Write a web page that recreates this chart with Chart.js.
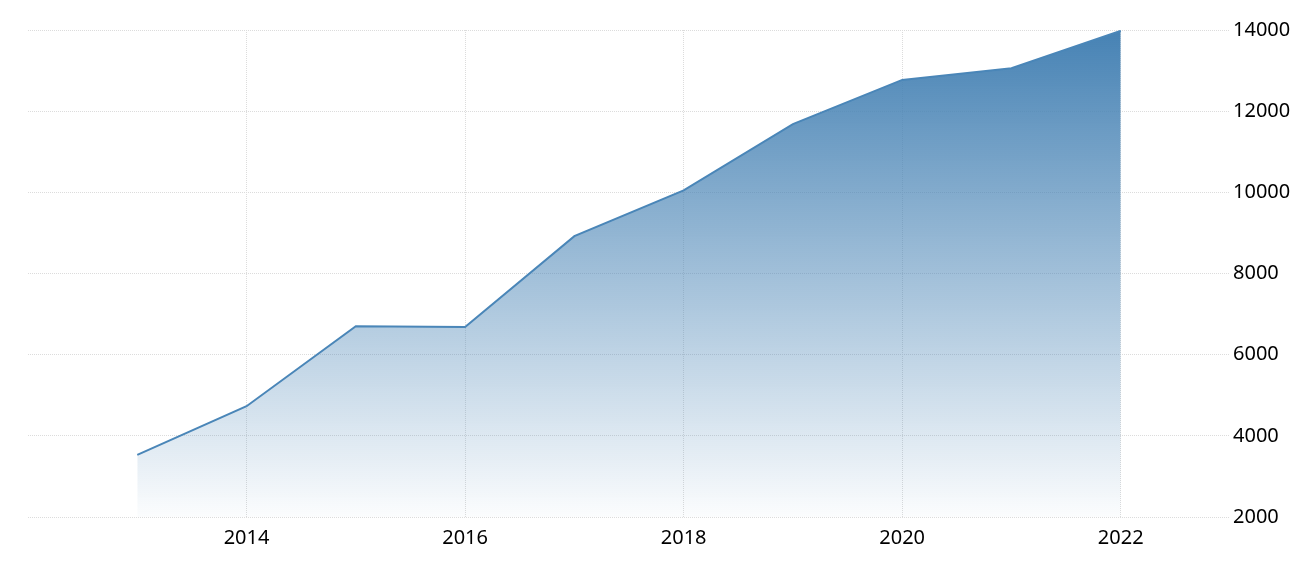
<!DOCTYPE html>
<html>
<head>
<meta charset="utf-8">
<script src="https://cdn.jsdelivr.net/npm/chart.js@4"></script>
<style>
  html, body { margin: 0; padding: 0; background: #fff; }
  #wrap { width: 1309px; height: 572px; }
</style>
</head>
<body>
<div id="wrap"><canvas id="chart"></canvas></div>
<script>
var years = [2013, 2014, 2015, 2016, 2017, 2018, 2019, 2020, 2021, 2022];
var values = [3530, 4730, 6700, 6680, 8920, 10050, 11680, 12770, 13060, 13980];
var xTicks = [2014, 2016, 2018, 2020, 2022];
var yTicks = [2000, 4000, 6000, 8000, 10000, 12000, 14000];

var lineColor = '#4a86b8';
var gridColor = '#dcdcdc';
var tickFont = {family: "'Noto Sans', sans-serif", size: 20};

var points = years.map(function (y, i) { return {x: y, y: values[i]}; });

function areaFill(context) {
    var chart = context.chart;
    var area = chart.chartArea;
    if (!area) return 'rgba(70,130,180,0.5)';
    var g = chart.ctx.createLinearGradient(0, area.top, 0, area.bottom);
    g.addColorStop(0, 'rgba(70,130,180,1)');
    g.addColorStop(1, 'rgba(70,130,180,0.02)');
    return g;
}

var ctx = document.getElementById('chart').getContext('2d');
var chart = new Chart(ctx, {
    type: 'line',
    data: {
        datasets: [{
            data: points,
            borderColor: lineColor,
            borderWidth: 2,
            backgroundColor: areaFill,
            fill: 'start',
            pointRadius: 0,
            tension: 0
        }]
    },
    options: {
        responsive: true,
        maintainAspectRatio: false,
        animation: false,
        layout: {padding: {left: 28, top: 30, right: 0, bottom: 0}},
        plugins: {legend: {display: false}, tooltip: {enabled: false}},
        scales: {
            x: {
                type: 'linear',
                min: 2012,
                max: 2023,
                afterBuildTicks: function (axis) {
                    axis.ticks = xTicks.map(function (v) { return {value: v}; });
                },
                afterFit: function (axis) { axis.height = 55; },
                ticks: {
                    color: '#000',
                    font: tickFont,
                    padding: 9,
                    maxRotation: 0,
                    callback: function (v) { return String(v); }
                },
                grid: {color: gridColor, drawTicks: false, tickLength: 0},
                border: {display: false, dash: [1, 1]}
            },
            y: {
                position: 'right',
                min: 2000,
                max: 14000,
                afterBuildTicks: function (axis) {
                    axis.ticks = yTicks.map(function (v) { return {value: v}; });
                },
                afterFit: function (axis) { axis.width = 79; },
                ticks: {
                    color: '#000',
                    font: tickFont,
                    padding: 3,
                    callback: function (v) { return String(v); }
                },
                grid: {color: gridColor, drawTicks: false, tickLength: 0},
                border: {display: false, dash: [1, 1]}
            }
        }
    }
});
</script>
</body>
</html>
